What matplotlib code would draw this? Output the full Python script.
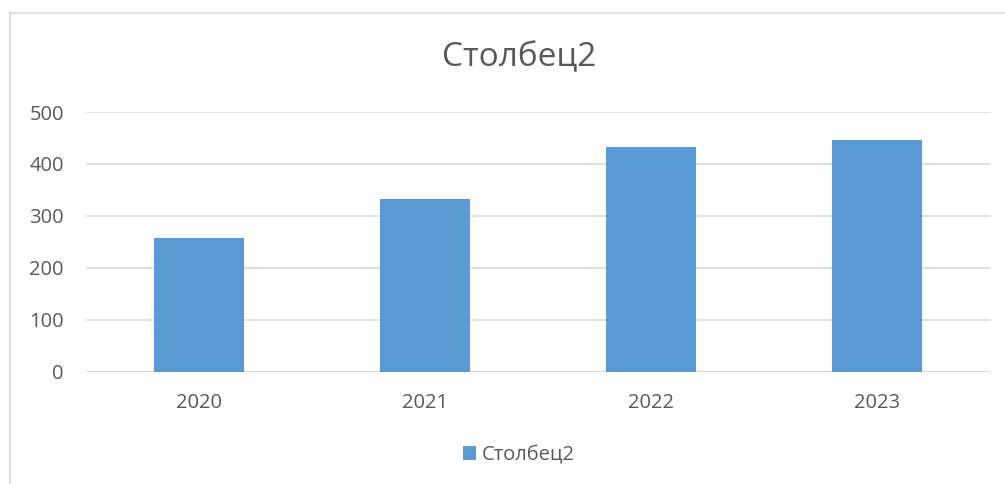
import matplotlib
matplotlib.use("Agg")
import matplotlib.pyplot as plt
from matplotlib.patches import Patch
from matplotlib.lines import Line2D

# Data
years = ["2020", "2021", "2022", "2023"]
values = [257, 332, 432, 447]
y_ticks = [0, 100, 200, 300, 400, 500]
series_name = "Столбец2"

bar_color = "#5B9BD5"
text_color = "#595959"
grid_color = "#D9D9D9"

plt.rcParams["font.family"] = ["Open Sans", "DejaVu Sans"]

W, H = 1005, 484
fig = plt.figure(figsize=(W / 100, H / 100), dpi=100)

# Plot area placement (pixels -> figure fractions)
left, right = 86 / W, 990 / W
bottom, top = 1 - 371.7 / H, 1 - 112 / H
ax = fig.add_axes([left, bottom, right - left, top - bottom])

x = range(len(years))
ax.bar(x, values, width=0.40, color=bar_color, zorder=3)

ax.set_xlim(-0.5, len(years) - 0.5)
ax.set_ylim(0, 500)
ax.set_yticks(y_ticks)
ax.set_xticks(list(x))
ax.set_xticklabels(years)
ax.yaxis.grid(True, color=grid_color, linewidth=1.2, zorder=0)
for s in ax.spines.values():
    s.set_visible(False)
ax.axhline(0, color=grid_color, linewidth=1.5, zorder=2)
ax.tick_params(axis="both", length=0, labelsize=14.5, colors=text_color)
ax.tick_params(axis="y", pad=16)
ax.tick_params(axis="x", pad=15)

# Chart title, centred on the chart area
fig.text(519 / W, 1 - 58 / H, series_name, ha="center", va="center",
         fontsize=24, color=text_color)

# Legend at the bottom
handles = [Patch(facecolor=bar_color, edgecolor="none", label=series_name)]
leg = fig.legend(handles=handles, loc="center", bbox_to_anchor=(519 / W, 1 - 455 / H),
                 frameon=False, fontsize=14.5, handlelength=0.65, handleheight=0.65,
                 handletextpad=0.3, labelcolor=text_color)

# Chart border (only left and top edges fall inside the picture)
fig.add_artist(Line2D([9.5 / W, 9.5 / W], [0, 1 - 12.5 / H],
                      transform=fig.transFigure, color=grid_color, linewidth=1.2))
fig.add_artist(Line2D([9.5 / W, 1], [1 - 12.5 / H, 1 - 12.5 / H],
                      transform=fig.transFigure, color=grid_color, linewidth=1.2))

fig.savefig("out.png", dpi=100, facecolor="white")
